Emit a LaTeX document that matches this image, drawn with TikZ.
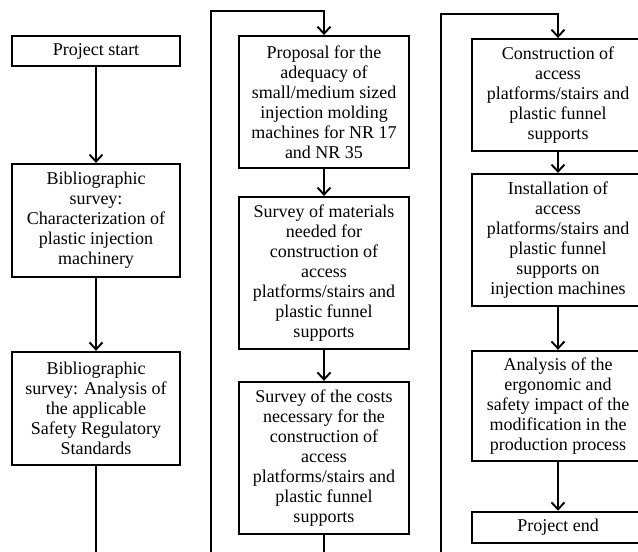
\documentclass[tikz,border=0pt]{standalone}
\usepackage{fontspec}
\setmainfont{Liberation Serif}
\usetikzlibrary{arrows.meta,positioning}
\tikzset{
  basebox/.style={rectangle,draw=black,line width=1.9pt,align=center,inner sep=2pt,font=\fontsize{18}{20}\selectfont},
  leftnode/.style={basebox,minimum width=168pt},
  midnode/.style={basebox,minimum width=170pt},
  rightnode/.style={basebox,minimum width=172pt},
  arr/.style={-{Straight Barb[length=7pt,width=13pt]},line width=1.9pt,color=black},
  linkline/.style={line width=1.9pt,color=black}
}
\begin{document}
\begin{tikzpicture}[x=1pt,y=-1pt]
  \useasboundingbox (0,0) rectangle (638,552);
  \clip (0,0) rectangle (638,552);

  %% First column: start and bibliographic surveys
  \node[leftnode,minimum height=30pt] (start) at (96,51) {Project start};
  \node[leftnode,minimum height=113pt,below=96pt of start] (bibmach)
    {Bibliographic\\survey:\\Characterization of\\plastic injection\\machinery};
  \node[leftnode,minimum height=113pt,below=73pt of bibmach] (bibnorm)
    {Bibliographic\\survey: Analysis of\\the applicable\\Safety Regulatory\\Standards};
  \coordinate (downA) at (96,552);

  \draw[arr] (start) -- (bibmach);
  \draw[arr] (bibmach) -- (bibnorm);
  \draw[linkline] (bibnorm) -- (downA);

  %% Second column: proposal and surveys
  \node[midnode,minimum height=132pt] (proposal) at (324,102)
    {Proposal for the\\adequacy of\\small/medium sized\\injection molding\\machines for NR 17\\and NR 35};
  \node[midnode,minimum height=152pt,below=27pt of proposal] (materials)
    {Survey of materials\\needed for\\construction of\\access\\platforms/stairs and\\plastic funnel\\supports};
  \node[midnode,minimum height=152pt,below=31pt of materials] (costs)
    {Survey of the costs\\necessary for the\\construction of\\access\\platforms/stairs and\\plastic funnel\\supports};
  \coordinate (upB) at (211,552);
  \coordinate (topB) at (211,11);
  \coordinate (downB) at (324,552);

  \draw[arr] (upB) -- (topB) -| (proposal.north);
  \draw[arr] (proposal) -- (materials);
  \draw[arr] (materials) -- (costs);
  \draw[linkline] (costs) -- (downB);

  %% Third column: construction, installation, analysis
  \node[rightnode,minimum height=112pt] (build) at (558,95)
    {Construction of\\access\\platforms/stairs and\\plastic funnel\\supports};
  \node[rightnode,minimum height=132pt,below=21pt of build] (install)
    {Installation of\\access\\platforms/stairs and\\plastic funnel\\supports on\\injection machines};
  \node[rightnode,minimum height=110pt,below=43pt of install] (impact)
    {Analysis of the\\ergonomic and\\safety impact of the\\modification in the\\production process};
  \node[rightnode,minimum height=31pt,below=49pt of impact] (finish) {Project end};
  \coordinate (upC) at (441,552);
  \coordinate (topC) at (441,14);

  \draw[arr] (upC) -- (topC) -| (build.north);
  \draw[arr] (build) -- (install);
  \draw[arr] (install) -- (impact);
  \draw[arr] (impact) -- (finish);
\end{tikzpicture}
\end{document}
